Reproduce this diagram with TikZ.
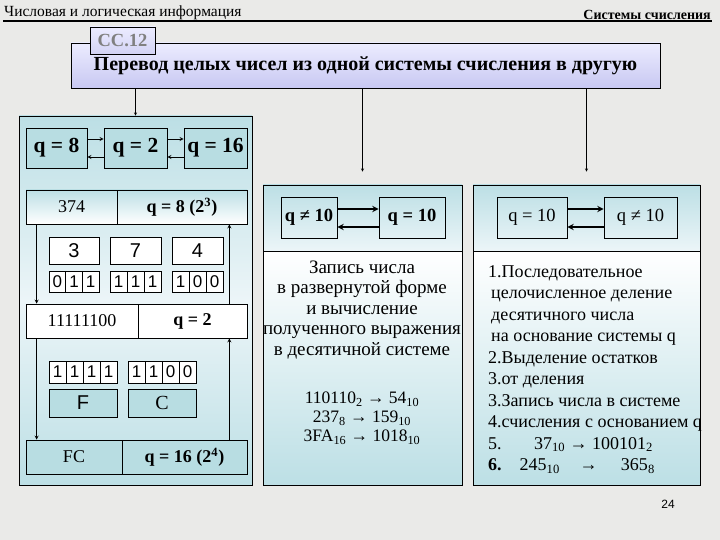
\documentclass[tikz,border=0pt]{standalone}
\usepackage{fontspec}
\setmainfont{Liberation Serif}
\newfontfamily\arialfont{Liberation Sans}
\usetikzlibrary{shapes,arrows,positioning,calc}
\definecolor{bggray}{RGB}{234,234,232}
\definecolor{boxteal}{RGB}{184,221,226}
\definecolor{panelteal}{RGB}{188,223,229}
\definecolor{panellight}{RGB}{236,245,248}
\definecolor{lavtop}{RGB}{236,236,255}
\definecolor{lavbot}{RGB}{200,200,242}
\definecolor{tabgray}{RGB}{128,128,128}

\begin{document}
\begin{tikzpicture}[x=1pt, y=-1pt,
    panel/.style={draw=black, line width=0.9pt, inner sep=0pt},
    qbox/.style={draw=black, fill=boxteal, line width=0.7pt, inner sep=0pt, minimum height=40pt, font=\fontsize{21.5}{24}\selectfont\bfseries},
    cell/.style={draw=black, fill=white, line width=0.7pt, inner sep=0pt, minimum height=34pt, font=\fontsize{18}{20}\selectfont},
    digit/.style={draw=black, fill=white, line width=0.7pt, inner sep=0pt, minimum width=51pt, minimum height=27pt, font=\arialfont\fontsize{20}{22}\selectfont},
    bit/.style={draw=black, fill=white, line width=0.7pt, inner sep=0pt, minimum width=16.7pt, minimum height=21pt, font=\arialfont\fontsize{17}{18}\selectfont},
    tbox/.style={draw=black, line width=0.7pt, inner sep=0pt, minimum height=41pt, font=\fontsize{18.5}{20}\selectfont},
    note/.style={inner sep=0pt, font=\fontsize{19}{20.5}\selectfont},
    arrow/.style={->, >=stealth, thick},
    barrow/.style={->, >=stealth, line width=1.8pt}
]
\useasboundingbox (0,0) rectangle (720,540);
\fill[bggray] (0,0) rectangle (720,540);

% header
\node[anchor=south west, inner sep=1pt, font=\fontsize{15.5}{16}\selectfont] (hleft) at (3,21) {Числовая и логическая информация};
\node[anchor=south east, inner sep=1pt, font=\fontsize{14}{16}\selectfont\bfseries] (hright) at (712,21) {Системы счисления};
\draw[line width=1.4pt] (hleft.south west) -- (hright.south east);

% title
\node[draw=black, line width=0.8pt, top color=lavtop, bottom color=lavbot, minimum width=589pt, minimum height=45pt, inner sep=0pt,
      font=\fontsize{20}{22}\selectfont\bfseries] (title) at (365.5,65.5) {Перевод целых чисел из одной системы счисления в другую};
\node[draw=black, line width=0.8pt, top color=lavtop, bottom color=lavbot!80!white, minimum width=65pt, minimum height=27pt, inner sep=0pt,
      text=tabgray, font=\fontsize{18.5}{20}\selectfont\bfseries] (tab) at (122.5,40.5) {СС.12};

% left panel
\node[panel, top color=panelteal, bottom color=panelteal, middle color=panellight, minimum width=233pt, minimum height=369pt] (lpanel) at (135.5,300.5) {};

\node[qbox, minimum width=61pt] (q8) at (56.5,148) {q = 8};
\node[qbox, minimum width=63pt] (q2) at (135.5,148) {q = 2};
\node[qbox, minimum width=63pt] (q16) at (215.5,148) {q = 16};

\draw[arrow] ([yshift=9pt]q8.east) -- ([yshift=9pt]q2.west);
\draw[arrow] ([yshift=-9pt]q2.west) -- ([yshift=-9pt]q8.east);
\draw[arrow] ([yshift=9pt]q2.east) -- ([yshift=9pt]q16.west);
\draw[arrow] ([yshift=-9pt]q16.west) -- ([yshift=-9pt]q2.east);

\node[cell, top color=panelteal, bottom color=white, minimum width=91pt] (n374) at (71.5,207) {374};
\node[cell, top color=panelteal, bottom color=white, minimum width=130pt, font=\fontsize{18}{20}\selectfont\bfseries] (b8) at (182,207) {q = 8 (2\textsuperscript{3})};

\node[digit, minimum width=50pt] (d3) at (74,250.5) {3};
\node[digit] (d7) at (135.5,250.5) {7};
\node[digit] (d4) at (197.5,250.5) {4};

\node[bit] (t1) at (57.35,281.5) {0};
\node[bit] (t2) at (74,281.5) {1};
\node[bit] (t3) at (90.65,281.5) {1};
\node[bit, minimum width=17pt] (s1) at (118.5,281.5) {1};
\node[bit, minimum width=17pt] (s2) at (135.5,281.5) {1};
\node[bit, minimum width=17pt] (s3) at (152.5,281.5) {1};
\node[bit, minimum width=17pt] (f1) at (180.5,281.5) {1};
\node[bit, minimum width=17pt] (f2) at (197.5,281.5) {0};
\node[bit, minimum width=17pt] (f3) at (214.5,281.5) {0};

\node[cell, minimum width=112pt] (n11) at (82,321) {11111100};
\node[cell, minimum width=109pt, font=\fontsize{18}{20}\selectfont\bfseries] (b2) at (192.5,321) {q = 2};

\node[bit, minimum width=17pt, minimum height=22pt] (h1) at (57.5,372) {1};
\node[bit, minimum width=17pt, minimum height=22pt] (h2) at (74.5,372) {1};
\node[bit, minimum width=17pt, minimum height=22pt] (h3) at (91.5,372) {1};
\node[bit, minimum width=17pt, minimum height=22pt] (h4) at (108.5,372) {1};
\node[bit, minimum width=17pt, minimum height=22pt] (c1) at (136.5,372) {1};
\node[bit, minimum width=17pt, minimum height=22pt] (c2) at (153.5,372) {1};
\node[bit, minimum width=17pt, minimum height=22pt] (c3) at (170.5,372) {0};
\node[bit, minimum width=17pt, minimum height=22pt] (c4) at (187.5,372) {0};

\node[digit, fill=boxteal, minimum width=68pt, minimum height=28pt] (hf) at (83,403) {F};
\node[digit, fill=boxteal, minimum width=68pt, minimum height=28pt, font=\fontsize{20}{22}\selectfont] (hc) at (162,403) {C};

\node[cell, fill=boxteal, minimum width=96pt] (nfc) at (74,457) {FC};
\node[cell, fill=boxteal, minimum width=125pt, font=\fontsize{18}{20}\selectfont\bfseries] (b16) at (184.5,457) {q = 16 (2\textsuperscript{4})};

\draw[arrow] ([xshift=11pt]n374.south west) -- ([xshift=11pt]n11.north west);
\draw[arrow] ([xshift=-18pt]b2.north east) -- ([xshift=-18pt]b8.south east);
\draw[arrow] ([xshift=11pt]n11.south west) -- ([xshift=11pt]nfc.north west);
\draw[arrow] ([xshift=-18pt]b16.north east) -- ([xshift=-18pt]b2.south east);

% middle panel
\node[panel, top color=panelteal, bottom color=panellight, minimum width=199pt, minimum height=66pt] (mtop) at (362.5,218) {};
\node[panel, top color=white, bottom color=panelteal, minimum width=199pt, minimum height=234pt] (mbot) at (362.5,368) {};

\node[tbox, minimum width=56pt, font=\fontsize{18.5}{20}\selectfont\bfseries] (mq1) at (309,217.5) {q ≠ 10};
\node[tbox, minimum width=66pt, font=\fontsize{18.5}{20}\selectfont\bfseries] (mq2) at (412,217.5) {q = 10};
\draw[barrow] ([yshift=8.5pt]mq1.east) -- ([yshift=8.5pt]mq2.west);
\draw[barrow] ([yshift=-9.5pt]mq2.west) -- ([yshift=-9.5pt]mq1.east);

\node[note, align=center] (mtext) at (362,310) {Запись числа\\в развернутой форме\\и вычисление\\полученного выражения\\в десятичной системе};
\node[note, align=center, font=\fontsize{17.5}{19}\selectfont] (mform) at (362,418) {110110\textsubscript{2} → 54\textsubscript{10}\\237\textsubscript{8} → 159\textsubscript{10}\\3FA\textsubscript{16} → 1018\textsubscript{10}};

% right panel
\node[panel, top color=panelteal, bottom color=panellight, minimum width=227pt, minimum height=66pt] (rtop) at (586.5,218) {};
\node[panel, top color=white, bottom color=panelteal, minimum width=227pt, minimum height=234pt] (rbot) at (586.5,368) {};

\node[tbox, minimum width=70pt] (rq1) at (532,217.5) {q = 10};
\node[tbox, minimum width=73pt] (rq2) at (640.5,217.5) {q ≠ 10};
\draw[barrow] ([yshift=8.5pt]rq1.east) -- ([yshift=8.5pt]rq2.west);
\draw[barrow] ([yshift=-9.5pt]rq2.west) -- ([yshift=-9.5pt]rq1.east);

\node[note, align=left, anchor=north west, font=\fontsize{18}{21.5}\selectfont] (rtext) at (488,265) {1.Последовательное\\
\hspace{3pt}целочисленное деление\\
\hspace{3pt}десятичного числа\\
\hspace{3pt}на основание системы q\\
2.Выделение остатков\\
3.от деления\\
3.Запись числа в системе\\
4.счисления с основанием q\\
5.\hspace{1.8em}37\textsubscript{10} → 100101\textsubscript{2}\\
\textbf{6.}\hspace{1em}245\textsubscript{10}\hspace{1.1em}→\hspace{1.3em}365\textsubscript{8}};

% connectors from title
\draw[arrow, thin] (title.south -| lpanel.north) -- (lpanel.north);
\draw[arrow, thin] (title.south -| mtop.north) -- ([yshift=13pt]mtop.north);
\draw[arrow, thin] (title.south -| rtop.north) -- ([yshift=13pt]rtop.north);

\node[font=\arialfont\fontsize{12}{14}\selectfont] (pnum) at (668,504) {24};

\end{tikzpicture}
\end{document}
